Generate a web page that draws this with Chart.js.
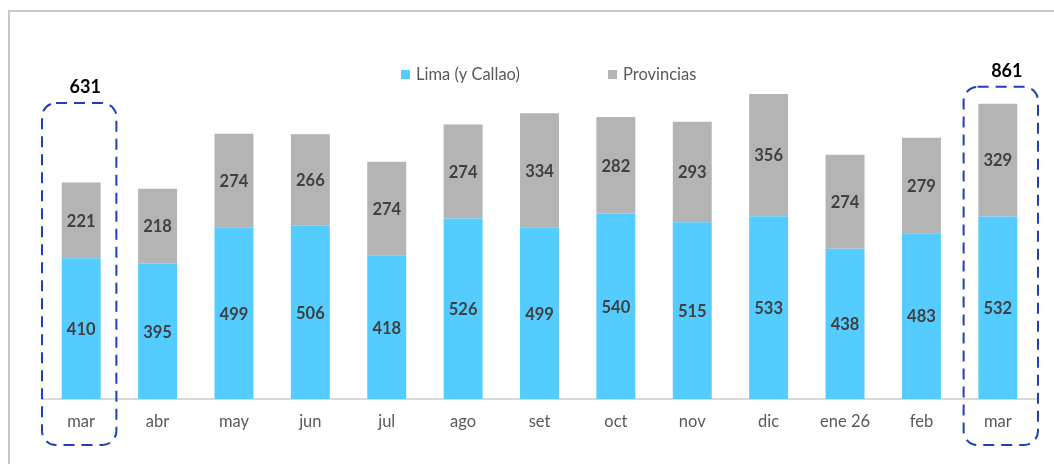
<!DOCTYPE html>
<html>
<head>
<meta charset="utf-8">
<script src="https://cdn.jsdelivr.net/npm/chart.js@4"></script>
<style>
  body { margin: 0; background: #fff; }
  #wrap { position: relative; width: 1054px; height: 464px; overflow: hidden; }
  #frame { position: absolute; left: 8px; top: 10px; width: 1100px; height: 500px; border: 2px solid #c8c8c8; box-sizing: border-box; }
  #c { position: absolute; left: 0; top: 0; }
</style>
</head>
<body>
<div id="wrap">
  <div id="frame"></div>
  <canvas id="c" width="1054" height="464"></canvas>
</div>
<script>
const months = ['mar', 'abr', 'may', 'jun', 'jul', 'ago', 'set', 'oct', 'nov', 'dic', 'ene 26', 'feb', 'mar'];
const lima = [410, 395, 499, 506, 418, 526, 499, 540, 515, 533, 438, 483, 532];
const provincias = [221, 218, 274, 266, 274, 274, 334, 282, 293, 356, 274, 279, 329];

// highlighted months: index, top of the dashed box (in axis units)
const highlights = [
    { index: 0, top: 863 },
    { index: 12, top: 910 }
];

const fontName = 'Lato, "Open Sans", sans-serif';

const segmentLabels = {
    id: 'segmentLabels',
    afterDatasetsDraw(chart) {
        const ctx = chart.ctx;
        ctx.save();
        ctx.font = 'bold 16.5px ' + fontName;
        ctx.fillStyle = '#404040';
        ctx.textAlign = 'center';
        ctx.textBaseline = 'middle';
        chart.data.datasets.forEach((ds, i) => {
            chart.getDatasetMeta(i).data.forEach((bar, j) => {
                const mid = (bar.y + bar.base) / 2;
                ctx.fillText(ds.data[j], bar.x, mid + 1);
            });
        });
        ctx.restore();
    }
};

const highlightBoxes = {
    id: 'highlightBoxes',
    afterDraw(chart) {
        const ctx = chart.ctx;
        const x = chart.scales.x;
        const y = chart.scales.y;
        const half = (x.getPixelForValue(1) - x.getPixelForValue(0)) / 2 - 1;
        highlights.forEach(h => {
            const cx = x.getPixelForValue(h.index) + (h.index === 0 ? -2 : 3);
            const top = y.getPixelForValue(h.top);
            const bottom = chart.chartArea.bottom + 46;
            ctx.save();
            ctx.strokeStyle = '#1d40b8';
            ctx.lineWidth = 2;
            ctx.setLineDash([11, 7]);
            ctx.beginPath();
            ctx.roundRect(cx - half, top, half * 2, bottom - top, 14);
            ctx.stroke();
            ctx.restore();

            ctx.save();
            ctx.font = 'bold 18px ' + fontName;
            ctx.fillStyle = '#000';
            ctx.textAlign = 'center';
            ctx.textBaseline = 'middle';
            ctx.fillText(lima[h.index] + provincias[h.index], cx + 6, top - 16);
            ctx.restore();
        });
    }
};

const customLegend = {
    id: 'customLegend',
    afterDraw(chart) {
        const ctx = chart.ctx;
        const items = [
            { text: 'Lima (y Callao)', color: '#55ccff', x: 401 },
            { text: 'Provincias', color: '#b4b4b4', x: 608 }
        ];
        ctx.save();
        ctx.font = '16.5px ' + fontName;
        ctx.textBaseline = 'middle';
        items.forEach(it => {
            ctx.fillStyle = it.color;
            ctx.fillRect(it.x, 70, 9, 9);
            ctx.fillStyle = '#595959';
            ctx.fillText(it.text, it.x + 15, 75);
        });
        ctx.restore();
    }
};

const chart = new Chart(document.getElementById('c'), {
    type: 'bar',
    data: {
        labels: months,
        datasets: [
            { label: 'Lima (y Callao)', data: lima, backgroundColor: '#55ccff' },
            { label: 'Provincias', data: provincias, backgroundColor: '#b4b4b4' }
        ]
    },
    options: {
        responsive: false,
        animation: false,
        events: [],
        layout: { padding: { left: 43, right: 18, top: 56, bottom: 0 } },
        datasets: { bar: { categoryPercentage: 1, barPercentage: 0.51 } },
        scales: {
            x: {
                stacked: true,
                grid: { display: false, drawTicks: false },
                border: { color: '#d9d9d9', width: 2 },
                ticks: { color: '#595959', font: { family: fontName, size: 16.5 }, padding: 13 },
                afterFit: s => { s.height = 65; }
            },
            y: {
                stacked: true,
                display: false,
                min: 0,
                max: 1000
            }
        },
        plugins: {
            legend: { display: false },
            tooltip: { enabled: false }
        }
    },
    plugins: [segmentLabels, highlightBoxes, customLegend]
});
</script>
</body>
</html>
